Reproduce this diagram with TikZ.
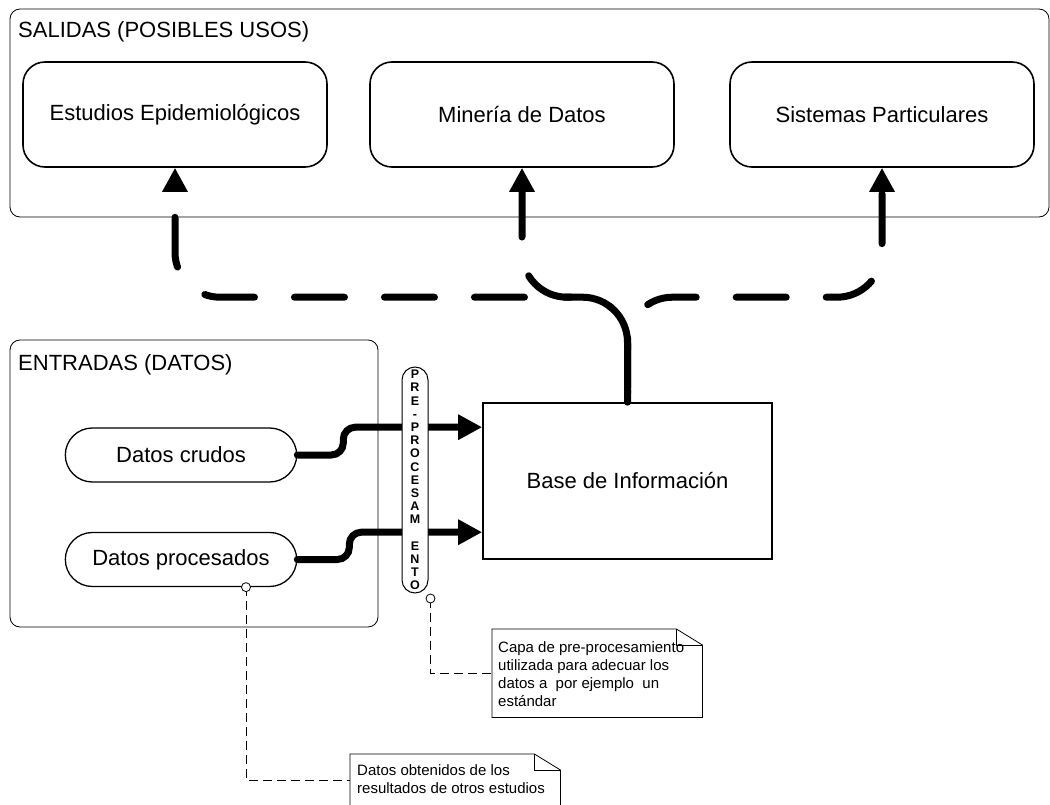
\documentclass[tikz,border=0pt]{standalone}
\usepackage{fontspec}
\setmainfont{Liberation Sans}
\usetikzlibrary{arrows.meta,shapes.misc,positioning}

\newcommand\notefold[1]{%
    \draw[line width=0.8pt, fill=white] (#1.north west) -- ([shift={(-26,0)}]#1.north east)
        -- ([shift={(0,16)}]#1.north east) -- (#1.south east) -- (#1.south west) -- cycle;
    \draw[line width=0.8pt] ([shift={(-26,0)}]#1.north east) -- ++(0,16)
        -- ([shift={(0,16)}]#1.north east);
}

\begin{document}
\begin{tikzpicture}[
        x=1pt, y=-1pt,
        group/.style={draw, rounded corners=10pt, line width=0.8pt},
        grouplabel/.style={anchor=base west, inner sep=0pt, font=\fontsize{22}{26}\selectfont},
        usebox/.style={
            draw,
            fill=white,
            rounded corners=22pt,
            line width=1.6pt,
            minimum width=304pt,
            minimum height=105pt,
            font=\fontsize{22}{26}\selectfont
        },
        databox/.style={
            draw,
            fill=white,
            rounded rectangle,
            line width=1.3pt,
            minimum width=238pt,
            minimum height=54pt,
            font=\fontsize{22}{26}\selectfont
        },
        basebox/.style={
            draw,
            fill=white,
            line width=1.6pt,
            minimum width=289pt,
            minimum height=156pt,
            font=\fontsize{22}{26}\selectfont
        },
        layer/.style={
            draw,
            fill=white,
            rounded corners=13pt,
            line width=1pt,
            minimum width=26pt,
            minimum height=226pt,
            inner sep=0pt,
            align=center,
            font=\bfseries\fontsize{12.5}{13.2}\selectfont
        },
        flow/.style={line width=7pt, line cap=round, -{Triangle[length=24pt,width=24pt]}},
        useflow/.style={flow, dash pattern=on 50pt off 40pt, rounded corners=45pt},
        leader/.style={line width=0.8pt, dash pattern=on 9pt off 5pt},
        pin/.style={draw, fill=white, circle, inner sep=0pt, minimum size=9pt, line width=0.8pt},
        note/.style={minimum width=210pt, minimum height=88pt, inner sep=0pt, anchor=north west},
        notetext/.style={anchor=north west, align=left, inner sep=0pt, font=\fontsize{15}{18}\selectfont}
    ]
    \useasboundingbox (0,0) rectangle (1050,805);

    \draw[group] (10,9) rectangle (1049,217);
    \node[grouplabel] (salidas) at (18,38) {SALIDAS (POSIBLES USOS)};
    \draw[group] (10,340) rectangle (378,627);
    \node[grouplabel] (entradas) at (18,370) {ENTRADAS (DATOS)};

    \node[usebox] (epid) at (175,114.5) {Estudios Epidemiológicos};
    \node[usebox] (mineria) at (522,114.5) {Minería de Datos};
    \node[usebox] (sistemas) at (882,114.5) {Sistemas Particulares};

    \node[databox] (crudos) at (181,455) {Datos crudos};
    \node[databox] (procesados) at (181,559.5) {Datos procesados};
    \node[basebox] (base) at (627.5,481) {Base de Información};

    \coordinate (in1) at ([shift={(0,25)}]base.north west);
    \coordinate (in2) at ([shift={(0,130)}]base.north west);
    \draw[flow, rounded corners=12pt] (crudos.east) -- ++(46,0) |- (in1);
    \draw[flow, rounded corners=12pt] (procesados.east) -- ++(52,0) |- (in2);

    \draw[useflow, dash phase=81.3pt] (base.north) -- ++(0,-105) -| (epid.south);
    \draw[useflow, dash phase=38pt] (base.north) -- ++(0,-105) -| (mineria.south);
    \draw[useflow, dash phase=75.6pt] (base.north) -- ++(0,-105) -| (sistemas.south);

    \node[layer] (layer) at (415,480) {P\\R\\E\\-\\P\\R\\O\\C\\E\\S\\A\\M\\\phantom{I}\\E\\N\\T\\O};

    \node[note] (note1) at (492,629) {};
    \notefold{note1}
    \node[notetext] (text1) at ([shift={(6,12)}]note1.north west)
        {Capa de pre-procesamiento\\utilizada para adecuar los\\datos a\ \ por ejemplo\ \ un\\estándar};
    \coordinate (pin1) at ([shift={(2,5)}]layer.south east);
    \draw[leader] (pin1) |- (note1.west);
    \node[pin] at (pin1) {};

    \node[note, minimum height=62pt] (note2) at (350,754) {};
    \notefold{note2}
    \node[notetext] (text2) at ([shift={(7,10)}]note2.north west)
        {Datos obtenidos de los\\resultados de otros estudios};
    \coordinate (pin2) at ([shift={(65,0)}]procesados.south);
    \draw[leader] (pin2) |- ([shift={(0,26)}]note2.north west);
    \node[pin] at (pin2) {};
\end{tikzpicture}
\end{document}
